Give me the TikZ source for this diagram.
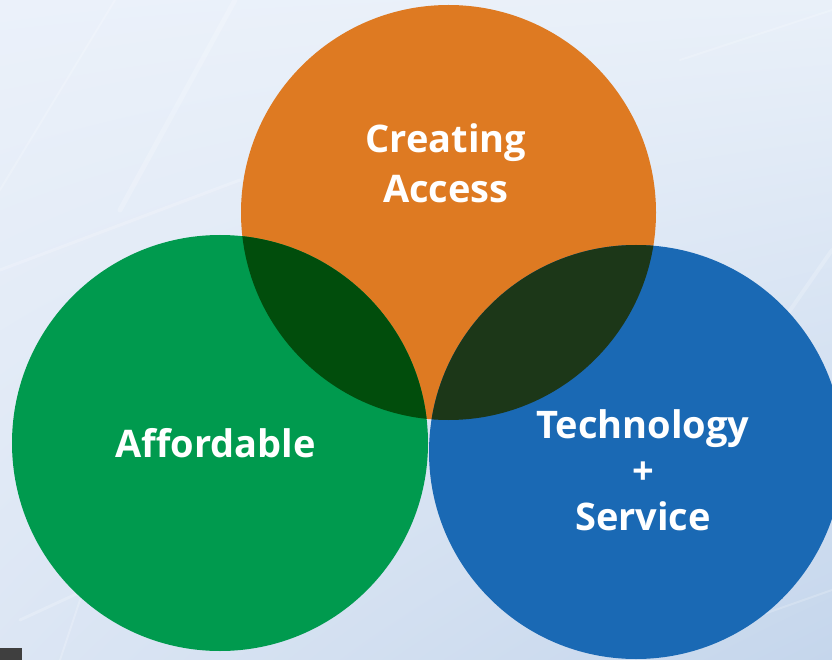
\documentclass[tikz,border=0pt]{standalone}
\usepackage{fontspec}
\setmainfont{Open Sans}
\usepackage{xcolor}
\usetikzlibrary{positioning}
\usetikzlibrary{shadings}

\definecolor{bgtl}{HTML}{EBF1FA}
\definecolor{bgtr}{HTML}{E9F0F9}
\definecolor{bgbl}{HTML}{DCE6F4}
\definecolor{bgbr}{HTML}{C5D6EC}
\definecolor{accessorange}{HTML}{DE7A22}
\definecolor{affordgreen}{HTML}{009A4E}
\definecolor{techblue}{HTML}{1A69B4}
\definecolor{greenorange}{HTML}{014D0C}
\definecolor{orangeblue}{HTML}{1C3718}
\definecolor{cornergray}{HTML}{3F3F3F}

\tikzset{
  label text/.style={text=white, inner sep=0pt, font=\bfseries\fontsize{38}{50}\selectfont, align=center},
  streak/.style={white, opacity=0.2, line cap=round}
}

\begin{document}
\begin{tikzpicture}[x=1pt, y=-1pt]

\useasboundingbox (0,0) rectangle (832,660);

% background
\shade[upper left=bgtl, upper right=bgtr, lower left=bgbl, lower right=bgbr] (0,0) rectangle (832,660);

{
\draw[streak, line width=2pt] (115,0)--(0,190);
\draw[streak, line width=5pt] (235,0)--(120,210);
\draw[streak, line width=3pt] (0,270)--(240,180);
\draw[streak, line width=2pt] (680,60)--(832,10);
\draw[streak, line width=4pt] (832,250)--(700,440);
\draw[streak, line width=2pt] (690,640)--(832,590);
\draw[streak, line width=3pt] (20,620)--(150,560);
\draw[streak, line width=2pt] (60,660)--(80,600);
}

\fill[cornergray] (0,648) rectangle (22,660);

% circles
\fill[accessorange] (448.5,212.5) circle [radius=207.5pt];

\fill[affordgreen] (220,443) circle [radius=208pt];

\fill[techblue] (636,452) circle [radius=207pt];

% overlaps
\begin{scope}
\clip (448.5,212.5) circle [radius=207.5pt];
\fill[greenorange] (220,443) circle [radius=208pt];
\fill[orangeblue] (636,452) circle [radius=207pt];
\end{scope}

% nodes
{
\node[label text, anchor=base] (access) at (446,203) {Creating\\Access};

\node[label text, anchor=base] (afford) at (215.5,457) {Affordable};

\node[label text, anchor=base, font=\bfseries\fontsize{38}{46}\selectfont] (tech) at (643,530) {Technology\\+\\Service};
}

\end{tikzpicture}
\end{document}
